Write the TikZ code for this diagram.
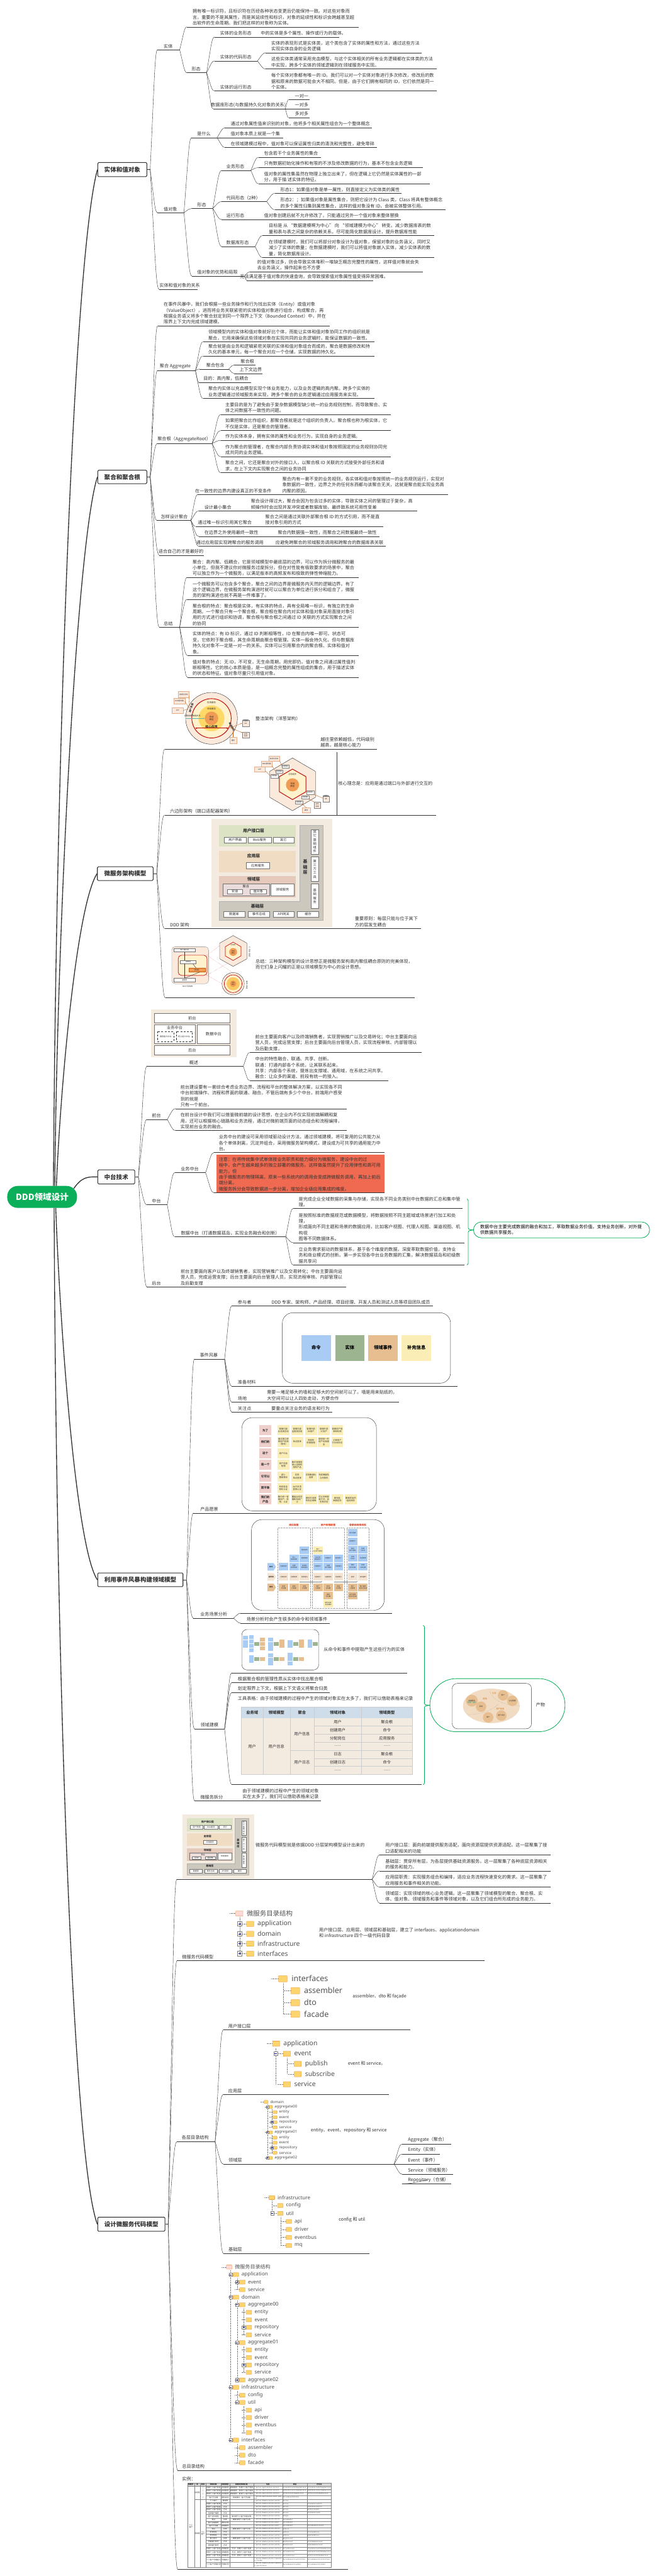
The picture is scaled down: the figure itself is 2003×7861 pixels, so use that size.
\documentclass[tikz,border=0pt]{standalone}
\usepackage{fontspec}
\setmainfont{Noto Sans CJK SC}
\newfontfamily\latinf{Noto Sans}
\newfontfamily\monof{Liberation Mono}
\usetikzlibrary{calc,arrows.meta,shapes.geometric}
\definecolor{ink}{HTML}{333333}
\definecolor{mapgreen}{HTML}{0BAF5A}
\definecolor{peach}{HTML}{FBE9DC}
\definecolor{cream}{HTML}{FFF2CC}
\definecolor{sun}{HTML}{FFD966}
\definecolor{core}{HTML}{F19C55}
\definecolor{wine}{HTML}{C00000}
\definecolor{rust}{HTML}{C55A11}
\definecolor{sand}{HTML}{F3EAE0}
\definecolor{skyc}{HTML}{A9CCF5}
\definecolor{sagec}{HTML}{9DB490}
\definecolor{tanc}{HTML}{E6BE90}
\definecolor{yelc}{HTML}{FAEEB6}
\definecolor{pinkc}{HTML}{EFCFCB}
\definecolor{beigec}{HTML}{F3E3D0}
\definecolor{layg}{HTML}{DCE3C4}
\definecolor{layo}{HTML}{EFDCC3}
\definecolor{layr}{HTML}{E5C9BB}
\definecolor{layb}{HTML}{CDC8BE}
\definecolor{layp}{HTML}{EBDCDC}
\definecolor{notec}{HTML}{EF6A50}
\definecolor{headc}{HTML}{CFDDEB}
\newcount\lbn
\begin{document}
\begin{tikzpicture}[x=0.5pt,y=-0.5pt,
    txt/.style={align=left,inner sep=0,anchor=south west,text=ink,font=\fontsize{6.85}{9}\selectfont},
    txtw/.style={txt,anchor=west},
    lnk/.style={draw=ink,line width=0.4pt},
    mlk/.style={draw=ink,line width=1.3pt},
    boxn/.style={draw=ink,line width=1pt,fill=white,rounded corners=1.5pt,inner sep=0,text=ink,font=\fontsize{9.15}{11}\selectfont\bfseries},
    sm/.style 2 args={font=\fontsize{#1}{#2}\selectfont,inner sep=0,align=center,text=ink},
    smb/.style 2 args={font=\fontsize{#1}{#2}\selectfont\bfseries,inner sep=0,align=center,text=ink},
    frm/.style={draw=ink,line width=0.4pt,fill=white},
    wbx/.style={draw=ink!70,line width=0.4pt,fill=white},
    org/.style={draw=rust,line width=0.35pt},
    grn/.style={draw=mapgreen,line width=0.8pt},
    gde/.style={draw=gray,line width=0.3pt,densely dotted},
    fold/.style={inner sep=0,anchor=west,text=ink!85}]
  \def\sixd{......}
  \newcommand\lb[4]{\global\advance\lbn by 1 \node[#1] (lb\the\lbn) at ({#2},{#3}) {#4};}
  \newcommand\lk[2]{\draw[lnk] let \p1=(#1),\p2=(#2),\n1={\x2-\x1},\n2={\y2-\y1} in (\p1) .. controls (\x1+.55*\n1,\y1+.7*\n2) and (\x1+.65*\n1,\y2) .. (\p2);}
  \newcommand\tp[8][4.5]{%
    \node[txt] (#2) at (#5,#7-#1) {#8};
    \coordinate (#2s) at (#4,#7); \coordinate (#2e) at (#6,#7);
    \draw[lnk] (#2s) -- (#2e);
    \lk{#3e}{#2s}}
  \newcommand\bx[7]{%
    \node[boxn,minimum width={(#3-#2)*.5pt},minimum height={(#5-#4)*.5pt}] (#1) at ({(#2+#3)/2},{(#4+#5)/2}) {#6};
    \coordinate (#1e) at (#7,{(#4+#5)/2});
    \draw[lnk] (#1.east) -- (#1e);}
  \newcommand\rbx[6]{\draw[wbx] (#1,#2) rectangle (#3,#4); \lb{sm={#6}{#6}}{(#1+#3)/2}{(#2+#4)/2}{#5}}
  \newcommand\vbx[6]{\draw[wbx] (#1,#2) rectangle (#3,#4); \lb{sm={5}{#6}}{(#1+#3)/2}{(#2+#4)/2}{#5}}
  \newcommand\cd[4]{\fill[#1] (#2,#3) rectangle ++(\cw,\ch); \lb{cds}{#2+.5*\cw}{#3+.5*\ch}{#4}}
  \newcommand\fold[5][yellow!45!orange!55!white]{%
    \pgfmathsetmacro\fs{#2*.5}
    \draw[gde] ({#3-2.55*#2},#4) -- ({#3-1.65*#2},#4);
    \draw[draw=orange!60!brown,line width=0.25pt,fill=#1,rounded corners=.5pt] ({#3-1.65*#2},{#4+.42*#2}) rectangle ({#3-.55*#2},{#4-.38*#2});
    \lb{fold,font=\latinf\fontsize{\fs}{\fs}\selectfont}{#3}{#4}{#5}}
  \newcommand\pbx[3]{\draw[draw=gray,line width=.3pt,fill=white] ({#1-#3},{#2-#3}) rectangle ({#1+#3},{#2+#3}); \draw[blue!60!black,line width=.3pt] ({#1-.6*#3},#2) -- ({#1+.6*#3},#2);}
  \newcommand\pbp[3]{\pbx{#1}{#2}{#3}\draw[blue!60!black,line width=.3pt] (#1,{#2-.6*#3}) -- (#1,{#2+.6*#3});}
  \newcommand\layers[3]{%
    \begin{scope}[shift={(#1,#2)},scale=#3,transform shape]
    \fill[sand] (0,0) rectangle (368,331);
    \fill[layg] (22.5,20) rectangle (257,86); \lb{smb={6.5}{7}}{128.5}{37.6}{用户接口层}
    \rbx{39}{56}{105}{74}{用户界面}{5} \rbx{111}{56}{182}{74}{Web服务}{5} \rbx{188}{56}{251}{74}{其它}{5}
    \fill[layo] (22.5,98) rectangle (257,163); \lb{smb={6.5}{7}}{128.5}{114.5}{应用层}
    \rbx{106}{134}{176}{152}{应用服务}{5}
    \fill[layr] (22.5,175) rectangle (257,240); \lb{smb={6.5}{7}}{128.5}{185}{领域层}
    \draw[wbx,fill=layp] (35,198) rectangle (176,234.5); \lb{sm={5}{5}}{105}{208}{聚合}
    \rbx{48}{217}{95}{229}{实体}{5} \rbx{118}{217}{167}{229}{值对象}{5} \rbx{181}{198}{252}{234.5}{领域服务}{5}
    \draw[draw=gray!60,line width=.4pt,fill=layb] (269.6,20) -- (340,20) -- (340,310) -- (23,310) -- (23,252) -- (269.6,252) -- cycle;
    \lb{smb={6.5}{8}}{286}{148}{基\\础\\层} \lb{smb={6.5}{7}}{140}{267}{基础层}
    \rbx{36.6}{283}{101}{300.5}{数据库}{5} \rbx{112}{283}{177}{300.5}{事件总线}{5} \rbx{187.5}{283}{252}{300.5}{API网关}{5} \rbx{262}{283}{327}{300.5}{缓存}{5}
    \vbx{304}{33}{326}{108}{其\\它\\基\\础\\组\\件}{6} \vbx{304}{116}{326}{191}{第\\三\\方\\工\\具}{6} \vbx{304}{199.5}{326}{274}{基\\础\\服\\务}{6}
    \end{scope}}
  \newcommand\brc[6]{% name, x, top, tip, bottom, tip x
    \coordinate (#1t) at (#2-4,#3); \coordinate (#1b) at (#2-4,#5); \coordinate (#1m) at (#6,#4);
    \draw[grn] (#1t) .. controls (#2,#3) and (#2,#3+4) .. (#2,#3+12) -- (#2,#4-6) .. controls (#2,#4-2) .. (#1m) .. controls (#2,#4+2) .. (#2,#4+6) -- (#2,#5-12) .. controls (#2,#5-4) and (#2,#5) .. (#1b);}
  \useasboundingbox (0,0) rectangle (2003,7861);
  \fill[white] (0,0) rectangle (2003,7861);
  % root and main boxes
  \node[fill=mapgreen,rounded corners=16pt,minimum width=106.5pt,minimum height=33.5pt,inner sep=0,text=white,font=\fontsize{13}{15}\selectfont\bfseries] (root) at (128.5,3652.5) {DDD领域设计};
  \coordinate (rootUa) at (163,3619); \coordinate (rootUb) at (167,3619); \coordinate (rootUc) at (172,3619);
  \coordinate (rootRt) at (225,3627); \coordinate (rootDa) at (170,3686); \coordinate (rootDb) at (165,3686);
  \bx{bxEnt}{298}{448}{496}{539}{实体和值对象}{458}
  \bx{bxAgg}{298}{448}{1435}{1476}{聚合和聚合根}{458}
  \bx{bxArc}{297}{467}{2645}{2687}{微服务架构模型}{478}
  \bx{bxMid}{298}{411}{3570}{3613}{中台技术}{422}
  \bx{bxSto}{298}{558}{4800}{4842}{利用事件风暴构建领域模型}{569}
  \bx{bxCod}{298}{503}{6766}{6809}{设计微服务代码模型}{513}
  \draw[mlk] (rootUa) .. controls (170,2400) and (222,800) .. (bxEnt.west);
  \draw[mlk] (rootUb) .. controls (175,2800) and (235,1650) .. (bxAgg.west);
  \draw[mlk] (rootUc) .. controls (185,3300) and (235,2760) .. (bxArc.west);
  \draw[mlk] (rootRt) .. controls (250,3590) and (270,3591) .. (bxMid.west);
  \draw[mlk] (rootDa) .. controls (185,4100) and (235,4730) .. (bxSto.west);
  \draw[mlk] (rootDb) .. controls (172,5200) and (225,6600) .. (bxCod.west);
  % entity and value object
  \tp{ent}{bxEnt}{480}{499}{548}{152}{实体}
  \tp{entDesc}{ent}{570}{587}{1094}{82}{拥有唯一标识符，且标识符在历经各种状态变更后仍能保持一致。对这些对象而\\言，重要的不是其属性，而是其延续性和标识，对象的延续性和标识会跨越甚至超\\出软件的生命周期。我们把这样的对象称为实体。}
  \tp{entForm}{ent}{570}{584}{630}{222}{形态}
  \tp{efBiz}{entForm}{654}{671}{787}{113}{实体的业务形态}
  \tp{efBizA}{efBiz}{787}{795}{1034}{113}{中的实体是多个属性、操作或行为的载体。}
  \tp{efCode}{entForm}{654}{671}{785}{186}{实体的代码形态}
  \tp{efCodeA}{efCode}{810}{827}{1285}{161}{实体的表现形式是实体类，这个类包含了实体的属性和方法，通过这些方法\\实现实体自身的业务逻辑}
  \tp{efCodeB}{efCode}{810}{827}{1332}{210.5}{这些实体类通常采用充血模型，与这个实体相关的所有业务逻辑都在实体类的方法\\中实现，跨多个实体的领域逻辑则在领域服务中实现。}
  \tp{efRun}{entForm}{654}{671}{810}{277.5}{实体的运行形态}
  \tp{efRunA}{efRun}{810}{827}{1332}{277.5}{每个实体对象都有唯一的 ID。我们可以对一个实体对象进行多次修改，修改后的数\\据和原来的数据可能会大不相同。但是，由于它们拥有相同的 ID，它们依然是同一\\个实体。}
  \tp{efDb}{entForm}{650}{643}{870}{332}{数据库形态(与数据持久化对象的关系)}
  \tp{dbOne}{efDb}{880}{899}{944}{304}{一对一}
  \tp{dbMany}{efDb}{870}{899}{944}{332}{一对多}
  \tp{dbMm}{efDb}{880}{899}{944}{359}{多对多}
  \tp{val}{bxEnt}{480}{499}{561}{649}{值对象}
  \tp{valWhat}{val}{584}{601}{662}{420}{是什么}
  \tp{vwA}{valWhat}{686}{703}{1135}{390}{通过对象属性值来识别的对象，他将多个相关属性组合为一个整体概念}
  \tp{vwB}{valWhat}{662}{703}{863}{420}{值对象本质上就是一个集}
  \tp{vwC}{valWhat}{686}{703}{1149}{450}{在领域建模过程中，值对象可以保证属性归类的清洗和完整性，避免零碎}
  \tp{valForm}{val}{585}{601}{649}{636}{形态}
  \tp{vfBiz}{valForm}{676}{690}{765}{520}{业务形态}
  \tp{vfBizA}{vfBiz}{788}{805}{979}{480}{包含若干个业务属性的集合}
  \tp{vfBizB}{vfBiz}{788}{805}{1289}{511}{只有数据初始化操作和有限的不涉及修改数据的行为，基本不包含业务逻辑}
  \tp{vfBizC}{vfBiz}{788}{805}{1311}{560.5}{值对象的属性集虽然在物理上独立出来了，但在逻辑上它仍然是实体属性的一部\\分，用于描 述实体的特征。}
  \tp{vfCode}{valForm}{676}{690}{813}{615}{代码形态（2种）}
  \tp{vfCodeA}{vfCode}{838}{855}{1225}{590}{形态1：如果值对象是单一属性，则直接定义为实体类的属性}
  \tp{vfCodeB}{vfCode}{838}{855}{1359.5}{640}{形态2：；如果值对象是属性集合，则把它设计为 Class 类，Class 将具有整体概念\\的多个属性归集到属性集合，这样的值对象没有 ID，会被实体整体引用。}
  \tp{vfRun}{valForm}{676}{690}{794}{670}{运行形态}
  \tp{vfRunA}{vfRun}{794}{805}{1222}{670}{值对象创建后就不允许修改了，只能通过另外一个值对象来整体替换}
  \tp{vfDb}{valForm}{676}{690}{778}{752.5}{数据库形态}
  \tp{vfDbA}{vfDb}{800}{819.5}{1324}{719}{目标是 从 “数据建模啊为中心” 向 “领域建模为中心” 转变。减少数据库表的数\\量和表与表之间复杂的依赖关系，尽可能简化数据库设计，提升数据库性能}
  \tp{vfDbB}{vfDb}{800}{819.5}{1324}{786}{在领域建模时，我们可以将部分对象设计为值对象，保留对象的业务涵义，同时又\\减少了实体的数量；在数据建模时，我们可以将值对象嵌入实体，减少实体表的数\\量，简化数据库设计。}
  \tp{valPro}{val}{585}{601}{746}{842.5}{值对象的优势和局限}
  \tp{vpA}{valPro}{762}{784.5}{1290.5}{829}{的值对象过多，则会导致实体堆积一堆缺乏概念完整性的属性，这样值对象就会失\\去业务涵义，操作起来也不方便}
  \tp{vpB}{valPro}{753}{731.5}{1137.5}{856}{无法满足基于值对象的快速查询，会导致搜索值对象属性值变得异常困难。}
  \tp{entRel}{bxEnt}{485}{486}{603}{882.5}{实体和值对象的关系}
  % aggregate
  \tp{agIntro}{bxAgg}{481}{499}{1005}{994}{在事件风暴中，我们会根据一些业务操作和行为找出实体（Entity）或值对象\\（ValueObject），进而将业务关联紧密的实体和值对象进行组合，构成聚合，再\\根据业务语义将多个聚合划定到同一个限界上下文（Bounded Context）中，并在\\限界上下文内完成领域建模。}
  \tp{agg}{bxAgg}{480}{487}{596}{1131}{聚合 Aggregate}
  \tp{agA}{agg}{619}{635}{1141}{1043}{领域模型内的实体和值对象就好比个体，而能让实体和值对象协同工作的组织就是\\聚合，它用来确保这些领域对象在实现共同的业务逻辑时，能保证数据的一致性。}
  \tp{agB}{agg}{619}{635}{1141}{1086}{聚合就是由业务和逻辑紧密关联的实体和值对象组合而成的，聚合是数据修改和持\\久化的基本单元，每一个聚合对应一个仓储，实现数据的持久化。}
  \tp{agHas}{agg}{609}{629}{698}{1126}{聚合包含}
  \tp{agHasA}{agHas}{714}{733.5}{779}{1113.5}{聚合根}
  \tp{agHasB}{agHas}{714}{730}{800}{1140}{上下文边界}
  \tp{agGoal}{agg}{606}{620}{765}{1167}{目的：高内聚，低耦合}
  \tp{agC}{agg}{619}{635}{1141}{1216}{聚合内实体以充血模型实现个体业务能力，以及业务逻辑的高内聚。跨多个实体的\\业务逻辑通过领域服务来实现，跨多个聚合的业务逻辑通过应用服务来实现。}
  \tp{arRoot}{bxAgg}{480}{480}{647}{1353}{聚合根（AggregateRoot）}
  \tp{arA}{arRoot}{673}{687}{1192.5}{1265}{主要目的是为了避免由于复杂数据模型缺少统一的业务规则控制，而导致聚合、实\\体之间数据不一致性的问题。}
  \tp{arB}{arRoot}{673}{687}{1192.5}{1314}{如果把聚合比作组织，那聚合根就是这个组织的负责人。聚合根也称为根实体，它\\不仅是实体，还是聚合的管理者。}
  \tp{arC}{arRoot}{673}{687}{1104}{1344}{作为实体本身，拥有实体的属性和业务行为，实现自身的业务逻辑。}
  \tp{arD}{arRoot}{673}{687}{1192.5}{1393.5}{作为聚合的管理者，在聚合内部负责协调实体和值对象按照固定的业务规则协同完\\成共同的业务逻辑。}
  \tp{arE}{arRoot}{673}{687}{1192.5}{1442.5}{聚合之间，它还是聚合对外的接口人，以聚合根 ID 关联的方式接受外部任务和请\\求，在上下文内实现聚合之间的业务协同}
  \tp{how}{bxAgg}{478}{490}{582}{1588}{怎样设计聚合}
  \tp{howA}{how}{603}{595}{845}{1509}{在一致性的边界内建设真正的不变条件}
  \tp{howAa}{howA}{845}{861}{1366}{1509}{聚合内有一套不变的业务规则，各实体和值对象按照统一的业务规则运行，实现对\\象数据的一致性，边界之外的任何东西都与该聚合无关，这就是聚合能实现业务高\\内聚的原因。}
  \tp{howB}{how}{606}{623}{752}{1559}{设计最小集合}
  \tp{howBa}{howB}{752}{765}{1271.5}{1559}{聚合设计得过大，聚合会因为包含过多的实体，导致实体之间的管理过于复杂，高\\频操作时会出现并发冲突或者数据库锁，最终致系统可用性变差}
  \tp{howC}{how}{596}{603}{794}{1606.5}{通过唯一标识引用其它聚合}
  \tp{howCa}{howC}{794}{809}{1168}{1606.5}{聚合之间是通过关联外部聚合根 ID 的方式引用，而不是直\\接对象引用的方式}
  \tp{howD}{how}{606}{623}{829}{1637}{在边界之外使用最终一致性}
  \tp{howDa}{howD}{829}{847}{1157}{1637}{聚合内数据强一致性，而聚合之间数据最终一致性}
  \tp{howE}{how}{606}{598}{829}{1667}{通过应用层实现跨聚合的服务调用}
  \tp{howEa}{howE}{829}{840}{1176.5}{1667}{应避免跨聚合的领域服务调用和跨聚合的数据库表关联}
  \tp{agFit}{bxAgg}{486}{483}{622}{1694.5}{适合自己的才是最好的}
  \tp{agSum}{bxAgg}{486}{499}{548}{1914}{总结}
  \tp{sumA}{agSum}{570}{587}{1093.5}{1762}{聚合：高内聚、低耦合，它是领域模型中最底层的边界，可以作为拆分微服务的最\\小单位，但我不建议你对微服务过度拆分。但在对性能有极致要求的场景中，聚合\\可以独立作为一个微服务，以满足版本的高频发布和极致的弹性伸缩能力。}
  \tp{sumB}{agSum}{570}{587}{1093.5}{1829}{一个微服务可以包含多个聚合，聚合之间的边界是微服务内天然的逻辑边界。有了\\这个逻辑边界，在微服务架构演进时就可以以聚合为单位进行拆分和组合了，微服\\务的架构演进也就不再是一件难事了。}
  \tp{sumC}{agSum}{570}{587}{1093.5}{1914}{聚合根的特点：聚合根是实体，有实体的特点，具有全局唯一标识，有独立的生命\\周期。一个聚合只有一个聚合根，聚合根在聚合内对实体和值对象采用直接对象引\\用的方式进行组织和协调，聚合根与聚合根之间通过 ID 关联的方式实现聚合之间\\的协同}
  \tp{sumD}{agSum}{572}{587}{1093.5}{2000}{实体的特点：有 ID 标识，通过 ID 判断相等性，ID 在聚合内唯一即可。状态可\\变，它依附于聚合根，其生命周期由聚合根管理。实体一般会持久化，但与数据库\\持久化对象不一定是一对一的关系。实体可以引用聚合内的聚合根、实体和值对\\象。}
  \tp{sumE}{agSum}{572}{587}{1094.5}{2067}{值对象的特点：无 ID，不可变，无生命周期，用完即扔。值对象之间通过属性值判\\断相等性。它的核心本质是值，是一组概念完整的属性组成的集合，用于描述实体\\的状态和特征。值对象尽量只引用值对象。}
  % architecture models
  \tp[85]{arch1}{bxArc}{502}{779}{960}{2286}{整洁架构（洋葱架构）}
  \tp{arch1a}{arch1}{960}{977}{1150}{2286}{越往里依赖越低，代码级别\\越高，越是核心能力}
  \draw[draw=black,line width=.3pt,fill=peach] (645,2192) circle[radius=39.5pt];
  \draw[draw=wine,line width=.9pt,fill=cream] (645,2192) circle[radius=30pt];
  \fill[sun] (645,2192) circle[radius=19.7pt];
  \fill[core] (645,2192) circle[radius=10.3pt];
  \lb{sm={3.3}{4}}{645}{2145}{应用服务} \lb{sm={3.3}{4}}{645}{2163}{领域服务} \lb{sm={3.3}{4}}{645}{2192}{领域\\模型}
  \lb{smb={4.6}{5}}{645}{2217}{核心应用}
  \draw[draw=wine,line width=.6pt,{Stealth[length=3pt]}-{Stealth[length=3pt]}] (595,2222) -- (697,2222);
  \draw[draw=teal!60,line width=.3pt,-{Stealth[length=2pt]}] (566,2192) -- (624,2192);
  \lb{sm={3}{3}}{587}{2184}{控制依赖 数据关系}
  \lb{smb={3.6}{4},rotate=72}{583}{2161}{用户界面}
  \lb{smb={3.6}{4},rotate=-62}{707}{2218}{基础架构}
  \foreach \x/\y/\w/\tx in {560/2119/17/自动化测试,547/2139.5/17/Web服务器,542/2168/17/APP,711/2259/10/缓存}{
    \draw[draw=rust!50,line width=.3pt,fill=peach] (\x-\w,\y-9) rectangle (\x+\w,\y+9);
    \lb{sm={2.6}{3}}{\x}{\y}{\tx}}
  \draw[org] (576,2124) -- (578,2160); \draw[org] (564,2140) -- (576,2160); \draw[org] (559,2168) -- (574,2163);
  \draw[org,-{Stealth[length=2pt]}] (700,2222) -- (738,2207); \draw[org,-{Stealth[length=2pt]}] (706,2222) -- (739,2236); \draw[org,-{Stealth[length=2pt]}] (711,2232) -- (711,2250);
  \draw[draw=gray,line width=.3pt,fill=peach] (739,2198) rectangle (760,2216); \fill[gray] (749.5,2198) ellipse (10.5 and 3); \lb{sm={2.6}{3}}{749.5}{2208}{DB}
  \draw[draw=gray,line width=.3pt,fill=peach] (739,2234) rectangle (760,2252); \lb{sm={2.6}{3}}{749.5}{2243}{文件\\系统}
  \tp{arch2}{bxArc}{502}{518}{1027}{2487}{六边形架构（端口适配器架构）}
  \tp[90]{arch2a}{arch2}{1027}{1031}{1330}{2487}{核心理念是：应用是通过端口与外部进行交互的}
  \coordinate (arch2v) at (1027,2296); \draw[lnk] (arch2e) -- (arch2v);
  \draw[draw=black,line width=.3pt,fill=peach] (892,2313) -- (962,2354) -- (962,2433) -- (892,2474) -- (822.5,2433) -- (822.5,2354) -- cycle;
  \draw[draw=wine,line width=.9pt,fill=cream] (892,2347) -- (933,2370) -- (933,2416) -- (892,2440) -- (852,2416) -- (852,2370) -- cycle;
  \fill[core] (892,2395) circle[radius=10pt];
  \lb{sm={3.3}{4}}{892}{2395}{领域\\模型} \lb{sm={3}{3}}{892}{2364}{应用程序}
  \foreach \x/\y/\w/\tx in {836/2315/17/自动化测试,813/2331/17/Web服务器,792/2348/17/APP,934/2472/12/缓存}{
    \draw[draw=rust!50,line width=.3pt,fill=peach] (\x-\w,\y-8) rectangle (\x+\w,\y+8);
    \lb{sm={2.6}{3}}{\x}{\y}{\tx}}
  \foreach \x/\y/\tx in {871/2339/适配器C,851.5/2354/适配器B,837/2368/适配器A,946/2418/适配器F,931/2433/适配器E,912/2448/适配器D}{
    \draw[draw=gray,line width=.25pt,fill=white] (\x-11,\y-5.5) rectangle (\x+11,\y+5.5);
    \lb{sm={2.4}{3}}{\x}{\y}{\tx}}
  \draw[org] (853,2322) -- (860,2339); \draw[org] (830,2337) -- (840,2354); \draw[org] (809,2352) -- (824,2368);
  \draw[org] (957,2424) -- (985,2436); \draw[org] (942,2439) -- (960,2448); \draw[org] (921,2454) -- (934,2464);
  \draw[draw=gray,line width=.3pt,fill=peach] (984,2429) rectangle (1004,2447); \fill[gray] (994,2429) ellipse (10 and 3); \lb{sm={2.6}{3}}{994}{2439}{DB}
  \draw[draw=gray,line width=.3pt,fill=peach] (958,2448) rectangle (977,2467); \lb{sm={2.6}{3}}{967.5}{2457.5}{文件\\系统}
  \tp{arch3}{bxArc}{502}{518}{1065}{2833.5}{DDD 架构}
  \tp{arch3a}{arch3}{1065}{1082}{1284}{2833.5}{重要原则：每层只能与位于其下\\方的层发生耦合}
  \layers{645}{2498}{1}
  \tp[86]{arch4}{bxArc}{504}{779}{1265}{3045}{总结：三种架构模型的设计思想正是微服务架构高内聚低耦合原则的完美体现，\\而它们身上闪耀的正是以领域模型为中心的设计思想。}
  \draw[draw=gray,line width=.3pt,fill=peach,rounded corners=5pt] (524,2889) rectangle (636,3002);
  \draw[draw=wine,line width=.6pt,fill=cream,rounded corners=5pt] (543.5,2915) rectangle (631.5,2976.5);
  \rbx{531}{2894}{595}{2905}{用户接口层}{2.6} \rbx{550}{2930.5}{598}{2941}{应用层}{2.6}
  \draw[draw=rust,line width=.3pt,fill=core] (576,2954) rectangle (625,2966); \lb{sm={2.6}{3}}{600}{2960}{领域层}
  \rbx{531}{2985}{595}{2996}{基础层}{2.6}
  \lb{sm={2.6}{3}}{572}{3010}{DDD分层架构}
  \draw[lnk] (563,2905) -- (563,2930); \draw[lnk] (563,2941) -- (563,2985); \draw[lnk] (588,2941) -- (598,2954); \draw[lnk] (610,2966) -- (563,2985);
  \draw[draw=wine,line width=.25pt,densely dotted] (631,2915) -- (711,2855); \draw[draw=wine,line width=.25pt,densely dotted] (631,2976) -- (711,2930); \draw[draw=wine,line width=.25pt,densely dotted] (631,2915) -- (711,2969); \draw[draw=wine,line width=.25pt,densely dotted] (631,2976) -- (677,3002);
  \draw[draw=black,line width=.25pt,fill=peach] (711,2855) -- (753,2878) -- (753,2926) -- (711,2949) -- (670,2926) -- (670,2878) -- cycle;
  \draw[draw=wine,line width=.6pt,fill=cream] (711,2875) -- (735,2889) -- (735,2917) -- (711,2931) -- (687,2917) -- (687,2889) -- cycle;
  \fill[core] (711,2905) circle[radius=6pt]; \lb{sm={2.4}{3}}{711}{2905}{领域\\模型} \lb{sm={2.4}{3}}{711}{2884}{应用层}
  \lb{sm={2.8}{3.4}}{761}{2905}{六\\边\\形\\架\\构}
  \draw[draw=black,line width=.25pt,fill=peach] (711,3002) circle[radius=17pt];
  \draw[draw=wine,line width=.6pt,fill=cream] (711,3002) circle[radius=13.5pt];
  \fill[sun!70!core] (711,3002) circle[radius=10pt]; \fill[core] (711,3002) circle[radius=5pt]; \lb{sm={2.2}{2.6}}{711}{3002}{领域\\模型}
  \lb{sm={2.8}{3.4}}{753}{3006}{整\\洁\\架\\构}
  % middle platform
  \tp{ovw}{bxMid}{448}{577}{742}{3254}{概述}
  \fill[sand] (461,3080) rectangle (721.5,3226.5);
  \rbx{471}{3093}{701}{3120}{前台}{6} \draw[wbx] (471,3126.5) rectangle (595,3185); \lb{sm={6}{6}}{533}{3137}{业务中台}
  \draw[draw=ink,line width=.25pt,densely dashed] (481,3147.5) rectangle (529,3178); \lb{sm={3}{3}}{505}{3163}{通用能力中台}
  \draw[draw=ink,line width=.25pt,densely dashed] (537,3147.5) rectangle (586,3178); \lb{sm={3}{3}}{561.5}{3163}{核心能力中台}
  \rbx{601}{3126.5}{701.5}{3185}{数据中台}{6} \rbx{471}{3191}{701}{3218}{后台}{6}
  \tp{ovwA}{ovw}{761}{778}{1285}{3212}{前台主要面向客户以及终端销售者，实现营销推广以及交易转化；中台主要面向运\\营人员，完成运营支撑；后台主要面向后台管理人员，实现流程审核、内部管理以\\及后勤支撑，}
  \tp{ovwB}{ovw}{761}{778}{1184}{3297}{中台的特性融合、联通、共享、创新。\\联通：打通内部各个系统，让其联系起来。\\共享：内部各个系统，提炼出支撑域、通用域，在系统之间共享。\\融合：让众多的渠道、前段有统一的接入。}
  \tp{frt}{bxMid}{448}{463}{510}{3416}{前台}
  \tp{frtA}{frt}{535}{550}{1057}{3383}{前台建设要有一套综合考虑业务边界、流程和平台的整体解决方案，以实现各不同\\中台前端操作、流程和界面的联通、融合。不管后端有多少个中台，前端用户感受\\到的就是\\只有一个前台。}
  \tp{frtB}{frt}{535}{550}{1057}{3450}{在前台设计中我们可以借鉴微前端的设计思想，在企业内不仅实现前端解耦和复\\用，还可以根据核心链路和业务流程，通过对微前端页面的动态组合和流程编排，\\实现前台业务的融合。}
  \tp{mdl}{bxMid}{448}{463}{510}{3676.5}{中台}
  \tp{bizMid}{mdl}{533}{551}{627}{3578.5}{业务中台}
  \tp{bizA}{bizMid}{652.5}{667}{1172}{3517}{业务中台的建设可采用领域驱动设计方法，通过领域建模，将可复用的公共能力从\\各个单体剥离，沉淀并组合，采用微服务架构模式，建设成为可共享的通用能力中\\台。}
  \fill[notec] (660,3524.5) rectangle (1172,3640);
  \tp{bizB}{bizMid}{652.5}{667}{1172}{3640}{注意：在将传统集中式单体按业务职责和能力细分为微服务，建设中台的过\\程中，会产生越来越多的独立部署的微服务。这样做虽然提升了应用弹性和高可用\\能力，但\\由于微服务的物理隔离，原来一些系统内的调用会变成跨微服务调用，再加上前后\\端分离，\\微服务拆分会导致数据进一步分离，增加企业级应用集成的难度。}
  \tp{datMid}{mdl}{533}{551.5}{871.5}{3774}{数据中台（打通数据孤岛，实现业务融合和创新）}
  \tp{datA}{datMid}{894}{910.5}{1410.5}{3688}{是完成企业全域数据的采集与存储，实现各不同业务类别中台数据的汇总和集中管\\理。}
  \tp{datB}{datMid}{894}{910.5}{1417}{3792}{是按照标准的数据规范或数据模型，将数据按照不同主题域或场景进行加工和处\\理，\\形成面向不同主题和场景的数据应用，比如客户视图、代理人视图、渠道视图、机\\构视\\图等不同数据体系。}
  \tp{datC}{datMid}{894}{910.5}{1417}{3860}{立业务需求驱动的数据体系，基于各个维度的数据，深度萃取数据价值，支持业\\务和商业模式的创新。第一步实现各中台业务数据的汇集，解决数据孤岛和初级数\\据共享问}
  \brc{datBr}{1428}{3659}{3753.5}{3860}{1444}
  \node[grn,rounded corners=12pt,fill=white,minimum width=268.5pt,minimum height=24.2pt,inner sep=0] (datNote) at (1712.5,3753.2) {};
  \node[txt,anchor=west,text=black] (datNoteT) at (1464,3753) {数据中台主要完成数据的融合和加工，萃取数据业务价值，支持业务创新，对外提\\供数据共享服务。};
  \tp{bck}{bxMid}{448}{463}{533}{3927}{后台}
  \tp{bckA}{bck}{533}{550.5}{1056}{3927}{前台主要面向客户以及终端销售者，实现营销推广以及交易转化；中台主要面向运\\营人员，完成运营支撑；后台主要面向后台管理人员，实现流程审核、内部管理以\\及后勤支撑}
  % event storming
  \tp{stm}{bxSto}{593}{609}{685}{4147}{事件风暴}
  \tp{stmA}{stm}{707}{725}{826}{3985}{参与者}
  \tp{stmAa}{stmA}{826}{828}{1320}{3985}{DDD 专家、架构师、产品经理、项目经理、开发人员和测试人员等项目团队成员}
  \tp{stmB}{stm}{707}{725}{1395}{4230}{准备材料}
  \draw[frm,rounded corners=16pt] (861,4006) rectangle (1374,4221);
  \foreach \x/\c/\tx in {919/skyc/命令,1022/sagec/实体,1123/tanc/领域事件,1225/yelc/补充信息}{
    \fill[\c] (\x,4074.5) rectangle ++(90,78.5);
    \lb{smb={7}{8},text=black}{\x+45}{4113}{\tx}}
  \tp{stmC}{stm}{707}{725}{800}{4279}{场地}
  \tp{stmCa}{stmC}{800}{814}{1217.5}{4279}{需要一堵足够大的墙和足够大的空间就可以了。墙是用来贴纸的，\\大空间可以让人四处走动，方便合作}
  \tp{stmD}{stm}{707}{725}{826}{4309}{关注点}
  \tp{stmDa}{stmD}{826}{827}{1013.5}{4309}{要重点关注业务的语言和行为}
  \tp{vsn}{bxSto}{590}{610.5}{1165}{4617}{产品愿景}
  \draw[frm,rounded corners=16pt] (737.5,4326) rectangle (1148,4610.5);
  \begin{scope}[shift={(300,4400)},x=0.3189pt,y=-0.2551pt]
    \def\cw{57}\def\ch{60}\tikzset{cds/.style={smb={4.4}{6}}}
    \foreach \y/\tx in {-99/为了,-30/他们的,38/这个,106/是一个,177/它可以,245/而不像,315/我们的\\产品}{\cd{pinkc}{770}{\y}{\tx}}
    \tikzset{cds/.style={sm={3.2}{3.9}}}
    \foreach \x/\y/\tx in {856/-99/管理内部\\业务类应用,922/-99/管理内部\\运营类应用,988/-99/管理外部\\2B用户,1050/-99/管理外部\\2C用户,1114/-99/管理用户登\\录和权限,
      856/-30/通过接口获\\得用户权限\\（鉴权）,922/-30/单点登录,988/-30/资源的\\权限管理,1050/-30/提供统一的\\用户信息服\\务,1114/-30/记录用户\\行为和日志,
      856/38/用户中台,856/106/用户信息\\管理,922/106/集中管理登\\录认证和权\\限的产品,
      856/177/减少\\重复建设,922/177/实现\\单点登录,988/177/实现集团化\\运营,1050/177/完成微服务\\之间授权,
      856/245/系统各自\\授权认证,922/245/4A只负责\\登录认证,
      856/315/集中统一管\\理用户、权\\限、认证,922/315/覆盖业务范\\围和系统广\\泛,988/315/提供可追溯\\的安全保障,1050/315/可以多种登\\录方式，含\\生物识别,1114/315/高性能\\高稳定性,1178/315/便捷灵活的\\组合授权}{\cd{yelc}{\x}{\y}{\tx}}
  \end{scope}
  \tp{scn}{bxSto}{590}{610.5}{712.5}{4938}{业务场景分析}
  \tp[4.5]{scnA}{scn}{733.5}{740}{1196}{4923}{}
  \draw[frm,rounded corners=16pt] (767,4637) rectangle (1172,4914);
  \begin{scope}[shift={(300,4400)},x=0.3189pt,y=-0.2551pt]
    \foreach \x/\w/\tx in {858/154/岗位配置,1022/154/用户权限配置,1187/107/登录和权限校验}{
      \draw[draw=gray!70,line width=.25pt,densely dotted] (\x,515) rectangle ++(\w,480);
      \lb{smb={3.7}{4},text=red!50!brown}{\x+.5*\w}{498}{\tx}}
    \def\cw{45}\def\ch{45}\tikzset{cds/.style={sm={2.4}{3}}}
    \foreach \x/\y/\tx in {963/625/选择系统,913/674/导入\\菜单清单,963/674/选择菜单,863/723/创建系统,913/723/创建\\系统菜单,963/723/系统和\\菜单组合,
      1027/674/从HR中\\获取用户,1077/674/创建账户,1126/674/查询用户,1027/723/创建用户,1077/723/设置\\账户密码,1126/723/分配岗位,
      1193/522/用户登录,1193/572/查询账户,1193/622/校验\\账户密码,1243/622/校验\\Token,1193/672/生成\\Token,1243/672/生成菜单,1193/722/获取\\用户权限,1243/722/校验\\API权限}{\cd{skyc}{\x}{\y}{\tx}}
    \foreach \x/\tx in {863/创建系统,913/创建菜单,963/创建岗位,1027/创建用户,1077/设置密码,1126/分配岗位,1193/登录,1243/系统操作}{\cd{beigec}{\x}{784}{\tx}}
    \foreach \x/\y/\tx in {863/848/系统\\已创建,913/848/菜单\\已创建,963/848/岗位\\已创建,1027/848/用户\\已创建,1077/848/账号\\已设置,1126/848/岗位\\已分配,1193/848/用户\\已登录,1243/848/用户操作\\日志已生成,1077/897/密码\\已设置,1193/897/用户登录\\日志已生成}{\cd{tanc}{\x}{\y}{\tx}}
    \cd{yelc}{1027}{625}{用户\\(从HR中获取)} \cd{yelc}{1077}{945}{邮件系统\\发送通知}
    \foreach \y/\c/\tx in {725/skyc/命令,785/beigec/业务流,848/tanc/事件}{
      \fill[\c] (809,\y) -- (838,\y) -- (849,\y+22) -- (838,\y+45) -- (809,\y+45) -- cycle;
      \lb{smb={2.6}{3}}{826}{\y+22}{\tx}}
    \draw[draw=gray,line width=.25pt,-{Stealth[length=1.5pt]}] (963,835) -- (1070,835);
    \draw[draw=gray,line width=.25pt,-{Stealth[length=1.5pt]}] (1127,835) -- (1240,835);
  \end{scope}
  \tp{scnB}{scn}{733.5}{751.5}{1006.5}{4953}{场景分析时会产生很多的命令和领域事件}
  \tp{dmd}{bxSto}{593}{611}{685}{5275.5}{领域建模}
  \tp[65]{dmA}{dmd}{707}{987}{1241}{5104.5}{从命令和事件中提取产生这些行为的实体}
  \draw[frm,rounded corners=8pt] (737.5,4972.5) rectangle (972,5096);
  \begin{scope}[shift={(300,4400)},x=0.3189pt,y=-0.2551pt]
    \foreach \x/\y/\h in {692/1158/25,692/1185/23,692/1210/23,720/1155/24,720/1183/23,720/1208/23,720/1235/23,812/1170/25,812/1197/25,812/1225/25,906/1185/22,906/1209/24,1000/1183/24,1000/1209/24,720/1275/23,720/1300/23,812/1264/23,812/1290/23,812/1315/23,906/1262/24,906/1288/24,906/1314/24}{\fill[skyc] (\x,\y) rectangle ++(23,\h);}
    \foreach \x/\y in {745/1197,838/1197,932/1197,1024/1197,745/1288,838/1288,932/1288}{\fill[sagec] (\x,\y) rectangle ++(24,24);}
    \foreach \x/\y in {772/1170,772/1197,772/1223,865/1183,865/1209,958/1183,958/1209,772/1288,865/1288,958/1288}{\fill[tanc] (\x,\y) rectangle ++(24,24);}
  \end{scope}
  \tp{dmB}{dmd}{707}{725}{964}{5134.5}{根据聚合根的管理性质从实体中找出聚合根}
  \tp{dmC}{dmd}{707}{725}{1006}{5165}{划定限界上下文，根据上下文语义将聚合归类}
  \tp[255]{dmD}{dmd}{707}{725}{1285}{5446}{工具表格：由于领域建模的过程中产生的领域对象实在太多了，我们可以借助表格来记录}
  \fill[sand] (736,5243) rectangle (1258,5415);
  \fill[headc] (736,5208.7) rectangle (1258,5243);
  \draw[draw=gray!40,line width=.35pt] (736,5208.7) rectangle (1258,5415);
  \foreach \x in {802,884.6,958,1101.5}{\draw[draw=gray!40,line width=.35pt] (\x,5208.7) -- (\x,5415);}
  \foreach \y in {5267,5292,5316,5341,5366,5390}{\draw[draw=gray!40,line width=.35pt] (958,\y) -- (1258,\y);}
  \draw[draw=gray!40,line width=.35pt] (884.6,5341) -- (958,5341);
  \foreach \x/\tx in {769/业务域,843/领域模型,921/聚合,1030/领域对象,1180/领域类型}{\lb{smb={6}{6}}{\x}{5226}{\tx}}
  \lb{sm={6}{6}}{769}{5329}{用户} \lb{sm={6}{6}}{843}{5329}{用户信息} \lb{sm={6}{6}}{921}{5292}{用户信息} \lb{sm={6}{6}}{921}{5378}{用户日志}
  \foreach \y/\tx/\ty in {5255/用户/聚合根,5279.5/创建用户/命令,5304/分配岗位/应用服务,5328.5/\sixd/\sixd,5353.5/日志/聚合根,5378/创建日志/命令,5402.5/\sixd/\sixd}{
    \lb{sm={6}{6}}{1030}{\y}{\tx} \lb{sm={6}{6}}{1180}{\y}{\ty}}
  \brc{dmBr}{1294.5}{4960}{5204}{5446}{1311}
  \node[grn,rounded corners=40pt,fill=white,minimum width=206pt,minimum height=81pt,inner sep=0] (dmNote) at (1517,5203.5) {};
  \draw[frm,rounded corners=8pt] (1379,5137) rectangle (1621,5275.5);
  \begin{scope}[shift={(300,5000)},x=0.5423pt,y=-0.2551pt]
    \fill[tanc!55!white] (1105,403) ellipse (80 and 103);
    \draw[gray,line width=.3pt,densely dotted] (1100,315) .. controls (1110,370) and (1140,400) .. (1185,402);
    \draw[gray,line width=.3pt,densely dotted] (1125,395) .. controls (1100,430) and (1090,450) .. (1040,455);
    \foreach \x/\y/\r/\tx in {1138/340/8/账户,1164/373/8/认证票据,1050/372/9/领域服务,1076/408/8/系统,1096/472/8/用户,1133/461/8/用户日志}{
      \fill[tanc] (\x,\y) circle[radius=\r pt];
      \lb{sm={2.6}{3}}{\x}{\y}{\tx}}
    \fill[sagec] (1039,375) rectangle (1049,385); \fill[sagec] (1052,375) rectangle (1062,385);
    \foreach \x/\y/\tx in {1113/326/认证,1087/362/权限,1130/422/用户信息}{\lb{sm={3}{3},text=orange!80!black}{\x}{\y}{\tx}}
  \end{scope}
  \node[txtw] (dmOut) at (1634,5203) {产物};
  \tp{spl}{bxSto}{593}{611}{700}{5495}{微服务拆分}
  \tp{splA}{spl}{700}{739}{979}{5495}{由于领域建模的过程中产生的领域对象\\实在太多了，我们可以借助表格来记录}
  % code model
  \tp[97]{cdm}{bxCod}{539}{779}{1135}{5735}{微服务代码模型就是依据DDD 分层架构模型设计出来的}
  \layers{557}{5537}{0.592}
  \tp{cdmA}{cdm}{1157}{1175}{1680}{5660.5}{用户接口层：面向前端提供服务适配，面向资源层提供资源适配。这一层聚集了接\\口适配相关的功能}
  \tp{cdmB}{cdm}{1157}{1175}{1680}{5709}{基础层：贯穿所有层，为各层提供基础资源服务。这一层聚集了各种底层资源相关\\的服务和能力。}
  \tp{cdmC}{cdm}{1157}{1175}{1680}{5758.5}{应用层职责：实现服务组合和编排，适应业务流程快速变化的需求。这一层聚集了\\应用服务和事件相关的功能。}
  \tp{cdmD}{cdm}{1157}{1175}{1680}{5807}{领域层：实现领域的核心业务逻辑。这一层聚集了领域模型的聚合、聚合根、实\\体、值对象、领域服务和事件等领域对象，以及它们组合所形成的业务能力。}
  \tp{cdr}{bxCod}{540}{555}{1477.5}{5982.5}{微服务代码模型}
  \draw[gde] (731,5850) -- (731,5961.5);
  \fold[pink!60]{20}{752}{5839}{{\rmfamily 微服务目录结构}}
  \foreach \y/\tx in {5870.5/application,5901/domain,5931/infrastructure,5961.5/interfaces}{\fold{20}{785}{\y}{\tx}\pbp{731}{\y}{7}}
  \lb{txtw}{973}{5898}{用户接口层、应用层、领域层和基础层，建立了 interfaces、applicationdomain\\和 infrastructure 四个一级代码目录}
  \tp{lay}{bxCod}{540}{554}{656}{6535}{各层目录结构}
  \tp{layA}{lay}{681}{696}{1251}{6194}{用户接口层}
  \draw[gde] (864,6052) -- (864,6146);
  \fold{24}{889}{6038}{interfaces}
  \foreach \y/\tx in {6074.5/assembler,6111/dto,6146/facade}{\fold{24}{927}{\y}{\tx}}
  \lb{txtw}{1075}{6091.5}{assembler、dto 和 façade}
  \tp{layB}{lay}{681}{696}{1187}{6391.5}{应用层}
  \draw[gde] (841,6250) -- (841,6360); \draw[gde] (875,6280) -- (875,6329);
  \foreach \x/\y/\tx in {864/6236/application,897/6267/event,930/6298/publish,930/6329/subscribe,897/6360/service}{\fold{20}{\x}{\y}{\tx}}
  \pbx{841}{6267}{6}
  \lb{txtw}{1061}{6296}{event 和 service。}
  \tp{layC}{lay}{681}{696.5}{1202}{6603.5}{领域层}
  \draw[gde] (816,6422) -- (816,6585); \draw[gde] (830,6437) -- (830,6491.5); \draw[gde] (830,6515) -- (830,6569);
  \foreach \x/\y/\tx in {824/6414/domain,837/6429.5/aggregate00,851/6445/entity,851/6460.5/event,851/6476/repository,851/6491.5/service,837/6507/aggregate01,851/6523/entity,851/6538.5/event,851/6554/repository,851/6569/service,837/6585/aggregate02}{\fold{11.5}{\x}{\y}{\tx}}
  \pbx{816}{6429.5}{3.5} \pbx{816}{6507}{3.5} \pbp{816}{6585}{3.5} \pbp{830}{6476}{3.5} \pbp{830}{6554}{3.5}
  \lb{txtw}{948}{6501}{entity、event、repository 和 service}
  \tp{layCa}{layC}{1226}{1244}{1376}{6543}{Aggregate（聚合）}
  \tp{layCb}{layC}{1226}{1244}{1342}{6573.5}{Entity（实体）}
  \tp{layCc}{layC}{1226}{1244}{1342}{6603.5}{Event（事件）}
  \tp{layCd}{layC}{1226}{1244}{1381}{6634.5}{Service（领域服务）}
  \tp{layCe}{layC}{1226}{1244}{1377}{6664}{Repository（仓储）}
  \tp{layD}{lay}{681}{696.5}{1127}{6876}{基础层}
  \draw[gde] (830,6716) -- (830,6754); \draw[gde] (856,6766) -- (856,6852);
  \foreach \x/\y/\tx in {846/6706/infrastructure,872/6730/config,872/6754/util,898/6778.5/api,898/6803/driver,898/6827.5/eventbus,898/6852/mq}{\fold{15.5}{\x}{\y}{\tx}}
  \pbx{830}{6754}{5}
  \lb{txtw}{1033}{6774}{config 和 util}
  \tp{alld}{bxCod}{542}{555}{889.5}{7538.5}{总目录结构}
  \draw[gde] (703.5,6928) -- (703.5,7446); \draw[gde] (723,6952) -- (723,6987); \draw[gde] (723,7020) -- (723,7262.5); \draw[gde] (743,7044) -- (743,7125); \draw[gde] (743,7160) -- (743,7239); \draw[gde] (723,7296) -- (723,7331); \draw[gde] (743,7342) -- (743,7423); \draw[gde] (723,7458) -- (723,7515);
  \fold[pink!60]{15.5}{716}{6918}{{\rmfamily 微服务目录结构}}
  \foreach \x/\y/\tx in {736.5/6941/application,756/6964/event,756/6987/service,736.5/7010/domain,756/7033/aggregate00,776/7056/entity,776/7079/event,776/7102/repository,776/7125/service,756/7148.5/aggregate01,776/7171/entity,776/7194/event,776/7217/repository,776/7239/service,756/7262.5/aggregate02,736.5/7285/infrastructure,756/7309/config,756/7331/util,776/7354.5/api,776/7377/driver,776/7400/eventbus,776/7423/mq,736.5/7446/interfaces,756/7469/assembler,756/7492/dto,756/7515/facade}{\fold{15.5}{\x}{\y}{\tx}}
  \foreach \y in {6941,7010,7285,7446}{\pbx{703.5}{\y}{5}}
  \foreach \y in {7033,7148.5,7331}{\pbx{723}{\y}{5}}
  \pbp{723}{6964}{5} \pbp{723}{7262.5}{5} \pbp{743}{7102}{5} \pbp{743}{7217}{5}
  \tp[270]{exm}{bxCod}{542}{555}{1061}{7841}{实例：}
  \begin{scope}[shift={(300,7150)},x=0.3509pt,y=-0.2268pt]
    \fill[gray!30] (387,941) rectangle (1012,962);
    \draw[draw=gray,line width=.25pt] (387,941) rectangle (1012,1507);
    \foreach \x in {417,443}{\draw[draw=gray,line width=.25pt] (\x,941) -- (\x,1507);}
    \foreach \x in {468,533,570,675,800,908}{\draw[draw=gray,line width=.25pt] (\x,941) -- (\x,1507);}
    \draw[draw=gray,line width=.25pt] (417,1053) -- (1012,1053); \draw[draw=gray,line width=.25pt] (387,962) -- (1012,962);
    \foreach \x/\tx in {402/微服务,430/层,455/聚合,500/领域对象,551/领域类型,622/依赖的领域对象,737/包名,854/类名,960/方法名}{\lb{smb={2.7}{3}}{\x}{951}{\tx}}
    \lb{sm={2.7}{3.2}}{402}{1232}{个人\\客户} \lb{sm={2.7}{3.2}}{430}{1007}{应用层} \lb{sm={2.7}{3.2}}{430}{1280}{领域层} \lb{sm={2.7}{3.2}}{455}{1280}{个人\\客户}
    \foreach \y in {972,993,1014,1038}{\lb{sm={3.5}{4}}{455}{\y}{/}}
    \foreach \ya/\yb/\ob/\ty/\dep/\pk/\cl/\me in {
      962/983/创建个人客户信息/应用服务/领域服务：创建个人客户信息/*.person.application.service/CreatePersonInfoAppService/CreatePersonInfoAppService,
      983/1003/修改个人客户信息/应用服务/领域服务：修改个人客户信息/*.person.application.service/UpdatePersonInfoAppService/UpdatePersonInfoAppService,
      1003/1025/查询个人客户信息/应用服务/领域服务：查询个人客户信息/*.person.application.service/GetPersonInfoAppService/GetPersonInfoAppService,
      1025/1053/客户已创建/事件发布/领域事件：客户已创建/*.person.application.event.publ\\ish/PersonEventPublish/{},
      1053/1072/个人客户/聚合根/{}/*.person.domain.person.entity/Person/{},
      1072/1092/创建个人客户信息/方法/{}/*.person.domain.person.entity/Person/CreatePersonInfo,
      1092/1112/修改个人客户信息/方法/{}/*.person.domain.person.entity/Person/UpdatePersonInfo,
      1112/1133/查询个人客户信息/方法/{}/*.person.domain.person.entity/Person/GetPersonInfo,
      1133/1155/生成客户编码/方法/{}/*.person.domain.person.entity/Person/CreatePersonId,
      1155/1177/客户证件类型/值对象/聚合根个人客户的值对象/*.person.domain.person.entity/IdType/{},
      1177/1198/电话/实体/被聚合根个人客户引用/*.person.domain.person.entity/PhoneNumber/{},
      1198/1219/客户创建事件/事件实体/{}/*.person.domain.person.event/PersonEvent/{},
      1219/1240/客户已创建/领域事件/{}/*.person.domain.person.event/PersonEvent/PersonEventProcess,
      1240/1262/地址/实体/被聚合根个人客户引用/*.person.domain.person.entity/Address/{},
      1262/1283/新增地址/方法/{}/*.person.domain.person.entity/Address/CreateAddress,
      1283/1305/修改地址/方法/{}/*.person.domain.person.entity/Address/UpdateAddress,
      1305/1326/银行账号/实体/被聚合根个人客户引用/*.person.domain.person.entity/BankAccount/{},
      1326/1348/创建银行账号/方法/{}/*.person.domain.person.entity/BankAccount/CreateBankaccount,
      1348/1372/修改银行账号/方法/{}/*.person.domain.person.entity/BankAccount/UpdateBankaccount,
      1372/1396/创建个人客户信息/领域服务/方法：创建个人客户信息/*.person.domain.person.service/PersonService/CreatePersonInfoDomService,
      1396/1418/修改个人客户信息/领域服务/方法：修改个人客户信息/*.person.domain.person.service/PersonService/UpdatePersonInfoDomService,
      1418/1442/查询个人客户信息/领域服务/方法：查询个人客户信息/*.person.domain.person.service/PersonService/GetPersonInfoDomService,
      1442/1474/个人客户仓储接口/仓储接口/{}/*.person.domain.person.reposito\\ry.facade/PersonRepositoryInterface/PersonRepositoryInterface,
      1474/1507/个人客户仓储实现/仓储实现/{}/*.person.domain.person.reposito\\ry.persistence/PersonRepositoryImpl/PersonRepositoryImpl}{
      \draw[draw=gray,line width=.2pt] (468,\yb) -- (1012,\yb);
      \lb{sm={2.7}{3.2}}{500.5}{(\ya+\yb)/2}{\ob}
      \lb{sm={2.7}{3.2}}{551.5}{(\ya+\yb)/2}{\ty}
      \lb{sm={2.7}{3.2}}{622.5}{(\ya+\yb)/2}{\dep}
      \lb{sm={2.25}{3},anchor=west,align=left,font=\monof\fontsize{2.25}{3}\selectfont}{677}{(\ya+\yb)/2}{\pk}
      \lb{sm={2.25}{3},anchor=west,align=left,font=\monof\fontsize{2.25}{3}\selectfont}{802}{(\ya+\yb)/2}{\cl}
      \lb{sm={2.25}{3},anchor=west,align=left,font=\monof\fontsize{2.25}{3}\selectfont}{909}{(\ya+\yb)/2}{\me}}
  \end{scope}
\end{tikzpicture}
\end{document}
